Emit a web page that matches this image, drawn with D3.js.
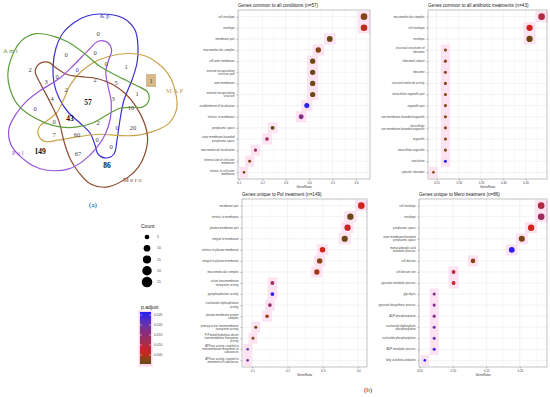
<!DOCTYPE html>
<html>
<head>
<meta charset="utf-8">
<script src="https://cdn.jsdelivr.net/npm/d3@7"></script>
<style>
  body { margin: 0; background: #fff; }
  svg { display: block; }
</style>
</head>
<body>
<div id="chart"></div>
<script>
// ---- Venn data ----
var vennSets = ["Kp", "MAP", "Mero", "Pol", "Ami"];
var vennCounts = [0, 0, 0, 0, 1, 2, 0, 3, 0, 2, 5, 1, 2, 1, 4, 57, 3, 0, 16, 43, 0, 2, 0, 20, 7, 60, 0, 0, 149, 67, 86];
var vennBold = [57, 43, 149, 86];

// ---- enrichment data (one set of arrays per panel) ----
var termsA = ["cell envelope", "envelope", "membrane part", "macromolecular complex", "cell outer membrane",
  "external encapsulating\nstructure part", "outer membrane", "external encapsulating\nstructure",
  "establishment of localization", "intrinsic to membrane", "periplasmic space",
  "outer membrane-bounded\nperiplasmic space", "macromolecule localization",
  "internal side of cell outer\nmembrane", "intrinsic to cell outer\nmembrane"];
var ratioA = [0.634, 0.634, 0.488, 0.439, 0.415, 0.415, 0.415, 0.415, 0.390, 0.366, 0.244, 0.220, 0.171, 0.146, 0.122];
var countA = [26, 26, 20, 18, 17, 17, 17, 17, 16, 15, 10, 9, 7, 6, 5];
var padjA = [0.0025, 0.005, 0.0005, 0.003, 0.0008, 0.0008, 0.0008, 0.0008, 0.026, 0.017, 0.0003, 0.013, 0.012, 0.002, 0.001];

var termsB = ["macromolecular complex", "cell envelope", "envelope", "structural constituent of\nribosome",
  "ribosomal subunit", "ribosome", "structural molecule activity", "intracellular organelle part",
  "organelle part", "non-membrane-bounded organelle", "intracellular\nnon-membrane-bounded organelle",
  "organelle", "intracellular organelle", "translation", "cytosolic ribosome"];
var ratioB = [0.486, 0.459, 0.459, 0.270, 0.270, 0.270, 0.270, 0.270, 0.270, 0.270, 0.270, 0.270, 0.270, 0.270, 0.243];
var countB = [18, 17, 17, 10, 10, 10, 10, 10, 10, 10, 10, 10, 10, 10, 9];
var padjB = [0.010, 0.006, 0.001, 0.003, 0.003, 0.003, 0.003, 0.003, 0.003, 0.003, 0.003, 0.003, 0.003, 0.026, 0.003];

var termsC = ["membrane part", "intrinsic to membrane", "plasma membrane part", "integral to membrane",
  "intrinsic to plasma membrane", "integral to plasma membrane", "macromolecular complex",
  "active transmembrane\ntransporter activity", "pyrophosphatase activity",
  "nucleoside-triphosphatase\nactivity", "plasma membrane protein\ncomplex",
  "primary active transmembrane\ntransporter activity",
  "P-P-bond-hydrolysis-driven\ntransmembrane transporter\nactivity",
  "ATPase activity, coupled to\ntransmembrane movement of\nsubstances",
  "ATPase activity, coupled to\nmovement of substances"];
var ratioC = [0.409, 0.378, 0.370, 0.362, 0.299, 0.291, 0.283, 0.157, 0.157, 0.150, 0.142, 0.110, 0.102, 0.087, 0.087];
var countC = [52, 48, 47, 46, 38, 37, 36, 20, 20, 19, 18, 14, 13, 11, 11];
var padjC = [0.006, 0.001, 0.007, 0.001, 0.006, 0.003, 0.004, 0.013, 0.026, 0.014, 0.0035, 0.001, 0.003, 0.02, 0.02];

var termsD = ["cell envelope", "envelope", "periplasmic space", "outer membrane-bounded\nperiplasmic space",
  "monocarboxylic acid\nmetabolic process", "cell division", "cell division site",
  "pyruvate metabolic process", "glycolysis", "pyruvate biosynthetic process", "ADP phosphorylation",
  "nucleoside diphosphate\nphosphorylation", "nucleotide phosphorylation", "ADP metabolic process",
  "fatty acid beta-oxidation"];
var ratioD = [0.232, 0.232, 0.217, 0.203, 0.188, 0.130, 0.101, 0.101, 0.072, 0.072, 0.072, 0.072, 0.072, 0.072, 0.058];
var countD = [16, 16, 15, 14, 13, 9, 7, 7, 5, 5, 5, 5, 5, 5, 4];
var padjD = [0.010, 0.013, 0.006, 0.002, 0.026, 0.003, 0.009, 0.008, 0.017, 0.017, 0.017, 0.02, 0.02, 0.024, 0.026];

var legendCounts = [5, 10, 15, 20, 25];
var legendPadj = [0.025, 0.020, 0.015, 0.010, 0.005];

// ---- svg ----
var svg = d3.select("#chart").append("svg")
  .attr("width", 550)
  .attr("height", 397);

var sans = "'Liberation Sans', Arial, sans-serif";
var serif = "'Liberation Serif', 'DejaVu Serif', serif";

// colour for p.adjust, shared by dots and colour bar
var colorScale = d3.scaleLinear()
  .domain([0, 0.003, 0.006, 0.011, 0.016, 0.020, 0.026])
  .range(["#5c4a14", "#8a4418", "#d0241c", "#a82c4c", "#8a2c7a", "#6a36a8", "#2a20f0"]);

// ================= Venn (a) =================
var vennCx = 88, vennCy = 100;
// one bean shaped outline (Kp), the others are rotated copies
var bean = [[12, -86], [35, -82], [47, -70], [50, -53], [49, -37], [44, -20], [36, 0], [32, 20],
  [29, 40], [26, 54], [18, 58], [10, 54], [7, 45], [2, 33], [-8, 23], [-20, 12], [-29, -2],
  [-34, -17], [-35, -33], [-32, -52], [-25, -67], [-13, -78], [-1, -84]];
var vennColors = ["#3a2ed0", "#c9a34c", "#8c4a2c", "#9a52d8", "#5f9e3f"];

var vennG = svg.append("g").attr("transform", "translate(" + vennCx + "," + vennCy + ")");
var beanLine = d3.line().curve(d3.curveCatmullRomClosed.alpha(0.5));

vennSets.forEach(function(s, i) {
  vennG.append("path")
    .attr("d", beanLine(bean))
    .attr("transform", "rotate(" + (i * 72) + ")")
    .attr("fill", "none")
    .attr("stroke", vennColors[i])
    .attr("stroke-width", 1.2);
});

// label positions for the 31 regions (same order as vennCounts)
var vennPos = [[98, 34], [66, 55], [95, 53], [106, 64], [126, 67], [30, 70], [77, 70], [46, 82],
  [57, 77], [95, 80], [116, 83], [151, 81], [66, 90], [137, 94], [52, 99], [88, 102], [113, 99],
  [35, 109], [131, 108], [70, 118], [54, 122], [98, 123], [117, 128], [133, 128], [54, 135],
  [77, 135], [97, 140], [111, 147], [40, 151], [78, 154], [107, 165]];

// boxed single count in MAP
svg.append("rect")
  .attr("x", 146).attr("y", 74).attr("width", 10).attr("height", 13)
  .attr("fill", "#d8b98c");

svg.selectAll("text.vcount")
  .data(vennCounts)
  .enter().append("text")
  .attr("class", "vcount")
  .attr("x", function(d, i) { return vennPos[i][0]; })
  .attr("y", function(d, i) { return vennPos[i][1]; })
  .attr("dy", "0.35em")
  .attr("text-anchor", "middle")
  .attr("font-family", serif)
  .attr("font-size", function(d) { return vennBold.indexOf(d) >= 0 ? 7.5 : 6.5; })
  .attr("font-weight", function(d) { return vennBold.indexOf(d) >= 0 ? "bold" : "normal"; })
  .attr("fill", function(d) { return vennBold.indexOf(d) >= 0 ? "#111" : "#444"; })
  .text(function(d) { return d; });

var setLabelPos = [[100, 18, "start"], [166, 93, "start"], [123, 182, "start"], [12, 155, "start"], [3, 53, "start"]];
vennSets.forEach(function(s, i) {
  svg.append("text")
    .attr("x", setLabelPos[i][0])
    .attr("y", setLabelPos[i][1])
    .attr("text-anchor", setLabelPos[i][2])
    .attr("font-family", serif)
    .attr("font-size", 6.5)
    .attr("letter-spacing", 1.5)
    .attr("fill", vennColors[i])
    .text(s);
});

svg.append("text")
  .attr("x", 93).attr("y", 207)
  .attr("text-anchor", "middle")
  .attr("font-family", serif)
  .attr("font-size", 7)
  .attr("fill", "#333")
  .text("(a)");

svg.append("text")
  .attr("x", 368).attr("y", 392)
  .attr("text-anchor", "middle")
  .attr("font-family", serif)
  .attr("font-size", 7)
  .attr("fill", "#333")
  .text("(b)");

// ================= Dot plots (b) =================
var panels = [
  { terms: termsA, ratio: ratioA, count: countA, padj: padjA,
    title: "Genes common to all conditions (n=57)",
    left: 238, right: 370, top: 10, bottom: 179,
    ticks: [0.1, 0.2, 0.3, 0.4, 0.5, 0.6], fmt: ".1f" },
  { terms: termsB, ratio: ratioB, count: countB, padj: padjB,
    title: "Genes common to all antibiotic treatments (n=43)",
    left: 428, right: 547, top: 10, bottom: 179,
    ticks: [0.25, 0.30, 0.35, 0.40, 0.45], fmt: ".2f" },
  { terms: termsC, ratio: ratioC, count: countC, padj: padjC,
    title: "Genes unique to Pol treatment (n=149)",
    left: 242, right: 367, top: 199, bottom: 367,
    ticks: [0.1, 0.2, 0.3, 0.4], fmt: ".1f" },
  { terms: termsD, ratio: ratioD, count: countD, padj: padjD,
    title: "Genes unique to Mero treatment (n=86)",
    left: 419, right: 547, top: 199, bottom: 367,
    ticks: [0.05, 0.10, 0.15, 0.20], fmt: ".2f" }
];

panels.forEach(function(p) {
  var g = svg.append("g");
  var rows = p.terms.map(function(t, i) {
    return { term: t, ratio: p.ratio[i], count: p.count[i], padj: p.padj[i] };
  });

  var ext = d3.extent(p.ratio);
  var pad = (ext[1] - ext[0]) * 0.05;
  var x = d3.scaleLinear().domain([ext[0] - pad, ext[1] + pad]).range([p.left, p.right]);
  var y = d3.scalePoint().domain(p.terms).range([p.top, p.bottom]).padding(0.6);
  var r = d3.scaleSqrt().domain(d3.extent(p.count)).range([1.3, 3.3]);
  var step = y.step();

  // panel background
  g.append("rect")
    .attr("x", p.left).attr("y", p.top)
    .attr("width", p.right - p.left).attr("height", p.bottom - p.top)
    .attr("fill", "#fff");

  // minor grid
  var minor = d3.range(p.ticks.length + 1).map(function(k) {
    var s = p.ticks[1] - p.ticks[0];
    return p.ticks[0] - s / 2 + k * s;
  }).filter(function(v) { return x(v) > p.left && x(v) < p.right; });
  g.selectAll("line.minor").data(minor).enter().append("line")
    .attr("x1", function(d) { return x(d); }).attr("x2", function(d) { return x(d); })
    .attr("y1", p.top).attr("y2", p.bottom)
    .attr("stroke", "#f3f3f3").attr("stroke-width", 0.4);

  // major grid
  g.selectAll("line.vgrid").data(p.ticks).enter().append("line")
    .attr("x1", function(d) { return x(d); }).attr("x2", function(d) { return x(d); })
    .attr("y1", p.top).attr("y2", p.bottom)
    .attr("stroke", "#e6e6e6").attr("stroke-width", 0.5);
  g.selectAll("line.hgrid").data(p.terms).enter().append("line")
    .attr("x1", p.left).attr("x2", p.right)
    .attr("y1", function(d) { return y(d); }).attr("y2", function(d) { return y(d); })
    .attr("stroke", "#e6e6e6").attr("stroke-width", 0.5);

  // pink halo behind dots
  g.selectAll("rect.halo").data(rows).enter().append("rect")
    .attr("x", function(d) { return x(d.ratio) - r(d.count) - 3; })
    .attr("y", function(d) { return y(d.term) - step / 2; })
    .attr("width", function(d) { return 2 * r(d.count) + 6; })
    .attr("height", step)
    .attr("fill", "#fde2f2");

  // dots
  g.selectAll("circle.dot").data(rows).enter().append("circle")
    .attr("cx", function(d) { return x(d.ratio); })
    .attr("cy", function(d) { return y(d.term); })
    .attr("r", function(d) { return r(d.count); })
    .attr("fill", function(d) { return colorScale(d.padj); });

  // border
  g.append("rect")
    .attr("x", p.left).attr("y", p.top)
    .attr("width", p.right - p.left).attr("height", p.bottom - p.top)
    .attr("fill", "none").attr("stroke", "#9a9a9a").attr("stroke-width", 0.6);

  // x axis
  var xAxis = g.append("g")
    .attr("transform", "translate(0," + p.bottom + ")")
    .call(d3.axisBottom(x).tickValues(p.ticks).tickFormat(d3.format(p.fmt)).tickSize(1.5).tickPadding(1));
  xAxis.select(".domain").remove();
  xAxis.selectAll("line").attr("stroke", "#555").attr("stroke-width", 0.4);
  xAxis.selectAll("text").attr("font-size", 2.9).attr("font-family", sans).attr("fill", "#444");

  // y axis
  var yAxis = g.append("g")
    .attr("transform", "translate(" + p.left + ",0)")
    .call(d3.axisLeft(y).tickSize(1.5).tickPadding(1.5).tickFormat(""));
  yAxis.select(".domain").remove();
  yAxis.selectAll("line").attr("stroke", "#555").attr("stroke-width", 0.4);

  rows.forEach(function(d) {
    var lines = d.term.split("\n");
    var lh = 3.2;
    var t = g.append("text")
      .attr("x", p.left - 3.5)
      .attr("y", y(d.term) - (lines.length - 1) * lh / 2)
      .attr("text-anchor", "end")
      .attr("font-family", sans)
      .attr("font-size", 2.8)
      .attr("fill", "#444");
    lines.forEach(function(l, k) {
      t.append("tspan")
        .attr("x", p.left - 3.5)
        .attr("dy", k === 0 ? "0.35em" : lh)
        .text(l);
    });
  });

  // titles
  g.append("text")
    .attr("x", p.left).attr("y", p.top - 3)
    .attr("font-family", sans)
    .attr("font-size", 4.6)
    .attr("fill", "#222")
    .text(p.title);

  g.append("text")
    .attr("x", (p.left + p.right) / 2).attr("y", p.bottom + 9)
    .attr("text-anchor", "middle")
    .attr("font-family", sans)
    .attr("font-size", 3.2)
    .attr("fill", "#333")
    .text("GeneRatio");
});

// ================= Legends =================
var legSize = d3.scaleSqrt().domain([0, 25]).range([0, 5.3]);
var legY = d3.scalePoint().domain(legendCounts).range([237, 282]);

svg.append("text")
  .attr("x", 141).attr("y", 228)
  .attr("font-family", sans).attr("font-size", 5).attr("fill", "#222")
  .text("Count");

svg.selectAll("circle.leg").data(legendCounts).enter().append("circle")
  .attr("cx", 147)
  .attr("cy", function(d) { return legY(d); })
  .attr("r", function(d) { return legSize(d); })
  .attr("fill", "#000");

svg.selectAll("text.leg").data(legendCounts).enter().append("text")
  .attr("x", 157)
  .attr("y", function(d) { return legY(d); })
  .attr("dy", "0.35em")
  .attr("font-family", sans).attr("font-size", 3.4).attr("fill", "#444")
  .text(function(d) { return d; });

svg.append("text")
  .attr("x", 141).attr("y", 309)
  .attr("font-family", sans).attr("font-size", 5).attr("fill", "#222")
  .text("p.adjust");

var barScale = d3.scaleLinear().domain([0.0265, 0.0005]).range([312, 364]);
var grad = svg.append("defs").append("linearGradient")
  .attr("id", "padjGrad").attr("x1", 0).attr("x2", 0).attr("y1", 0).attr("y2", 1);
d3.range(0, 11).forEach(function(k) {
  var v = 0.0265 - k * (0.026 / 10);
  grad.append("stop")
    .attr("offset", (k * 10) + "%")
    .attr("stop-color", colorScale(v));
});

svg.append("rect")
  .attr("x", 138.5).attr("y", 310.5).attr("width", 14).attr("height", 56)
  .attr("fill", "#fbd8ee");
svg.append("rect")
  .attr("x", 140).attr("y", 312).attr("width", 11).attr("height", 52)
  .attr("fill", "url(#padjGrad)");

svg.selectAll("line.cb").data(legendPadj).enter().append("line")
  .attr("x1", 140).attr("x2", 142)
  .attr("y1", function(d) { return barScale(d); })
  .attr("y2", function(d) { return barScale(d); })
  .attr("stroke", "#fff").attr("stroke-width", 0.5);
svg.selectAll("line.cb2").data(legendPadj).enter().append("line")
  .attr("x1", 149).attr("x2", 151)
  .attr("y1", function(d) { return barScale(d); })
  .attr("y2", function(d) { return barScale(d); })
  .attr("stroke", "#fff").attr("stroke-width", 0.5);

svg.selectAll("text.cb").data(legendPadj).enter().append("text")
  .attr("x", 154)
  .attr("y", function(d) { return barScale(d); })
  .attr("dy", "0.35em")
  .attr("font-family", sans).attr("font-size", 3.4).attr("fill", "#444")
  .text(function(d) { return d3.format(".3f")(d); });
</script>
</body>
</html>
